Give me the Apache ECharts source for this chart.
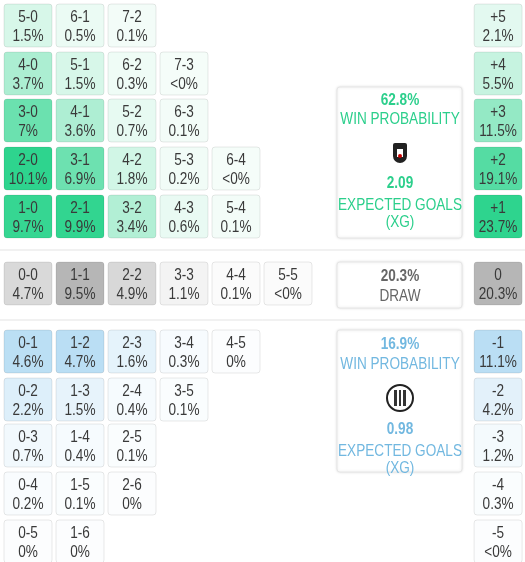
<!DOCTYPE html>
<html><head><meta charset="utf-8">
<script src="https://cdn.jsdelivr.net/npm/echarts@6/dist/echarts.min.js"></script>
<style>html,body{margin:0;padding:0;background:#fff}#frame{width:525px;height:562px}</style>
</head><body><div id="frame"></div>
<script>
// scorelines: [column, row, score, pct]
var homeScores = [
  [0,0,'5-0','1.5%'],[1,0,'6-1','0.5%'],[2,0,'7-2','0.1%'],
  [0,1,'4-0','3.7%'],[1,1,'5-1','1.5%'],[2,1,'6-2','0.3%'],[3,1,'7-3','<0%'],
  [0,2,'3-0','7%'],[1,2,'4-1','3.6%'],[2,2,'5-2','0.7%'],[3,2,'6-3','0.1%'],
  [0,3,'2-0','10.1%'],[1,3,'3-1','6.9%'],[2,3,'4-2','1.8%'],[3,3,'5-3','0.2%'],[4,3,'6-4','<0%'],
  [0,4,'1-0','9.7%'],[1,4,'2-1','9.9%'],[2,4,'3-2','3.4%'],[3,4,'4-3','0.6%'],[4,4,'5-4','0.1%']
];
var drawScores = [
  [0,0,'0-0','4.7%'],[1,0,'1-1','9.5%'],[2,0,'2-2','4.9%'],[3,0,'3-3','1.1%'],[4,0,'4-4','0.1%'],[5,0,'5-5','<0%']
];
var awayScores = [
  [0,0,'0-1','4.6%'],[1,0,'1-2','4.7%'],[2,0,'2-3','1.6%'],[3,0,'3-4','0.3%'],[4,0,'4-5','0%'],
  [0,1,'0-2','2.2%'],[1,1,'1-3','1.5%'],[2,1,'2-4','0.4%'],[3,1,'3-5','0.1%'],
  [0,2,'0-3','0.7%'],[1,2,'1-4','0.4%'],[2,2,'2-5','0.1%'],
  [0,3,'0-4','0.2%'],[1,3,'1-5','0.1%'],[2,3,'2-6','0%'],
  [0,4,'0-5','0%'],[1,4,'1-6','0%']
];
var homeMargins = [['+5','2.1%'],['+4','5.5%'],['+3','11.5%'],['+2','19.1%'],['+1','23.7%']];
var drawMargins = [['0','20.3%']];
var awayMargins = [['-1','11.1%'],['-2','4.2%'],['-3','1.2%'],['-4','0.3%'],['-5','<0%']];
var homeSummary = {win:'62.8%', xg:'2.09'};
var drawSummary = {p:'20.3%'};
var awaySummary = {win:'16.9%', xg:'0.98'};

// layout
var rowTops = {home:[4,52,99,147,195], draw:[262], away:[330,378,424,472,520]};
var cellW = 48, cellH = 43, marginCol = 9.04;
var bases = {home:[46,212,142], draw:[182,182,182], away:[186,222,244]};
var FONT = '"Liberation Sans","DejaVu Sans",sans-serif';
var SX = 0.8;

function pctVal(s){ return s.indexOf('<')===0 ? 0 : parseFloat(s); }
function mix(base, t){
  t = Math.max(0, Math.min(1, t));
  var c = base.map(function(b){ return Math.round(255 + (b-255)*t); });
  return 'rgb('+c.join(',')+')';
}
function cellSeries(group, items){
  var max = Math.max.apply(null, items.map(function(d){ return pctVal(d[3]); }));
  return {
    type:'custom', coordinateSystem:'cartesian2d', data: items, silent:true,
    renderItem: function(params, api){
      var d = items[params.dataIndex];
      var p = api.coord([d[0], rowTops[group][d[1]]]);
      var v = pctVal(d[3]);
      var cx = p[0]+cellW/2, cy = p[1]+cellH/2+1;
      return {
        type:'group', children:[
          {type:'rect', shape:{x:p[0], y:p[1], width:cellW, height:cellH, r:3},
           style:{fill: mix(bases[group], 0.05 + 0.95*v/max), stroke:'rgba(0,0,0,0.09)', lineWidth:1}},
          {type:'text', x:cx, y:cy, scaleX:SX,
           style:{text:d[2]+'\n'+d[3], x:0, y:0, align:'center', verticalAlign:'middle',
            font:'17px '+FONT, lineHeight:19, fill:'#3a3a3a'}}
        ]
      };
    }
  };
}
function marginItems(list){ return list.map(function(m,i){ return [marginCol, i, m[0], m[1]]; }); }

var chart = echarts.init(document.getElementById('frame'));
var W = 525;
function box(x,y,w,h){ return {type:'rect', shape:{x:x,y:y,width:w,height:h,r:3}, style:{fill:'#fff', stroke:'#e6e6e6', shadowBlur:3, shadowColor:'rgba(0,0,0,0.12)'}}; }
function txt(s,x,y,color,bold){ return {type:'text', x:x, y:y, scaleX:SX, style:{text:s, x:0, y:0, align:'center', verticalAlign:'middle', font:(bold?'bold ':'')+'17px '+FONT, fill:color}}; }
var G = '#2ccf8c', B = '#72b8e0', D = '#666';
chart.setOption({
  animation:false,
  grid:{left:4, right:0, top:0, bottom:0},
  xAxis:{type:'value', min:0, max:(W-4)/52, show:false},
  yAxis:{type:'value', min:0, max:562, inverse:true, show:false},
  graphic:[
    {type:'line', shape:{x1:0,y1:250,x2:W,y2:250}, style:{stroke:'#e3e3e3'}},
    {type:'line', shape:{x1:0,y1:320,x2:W,y2:320}, style:{stroke:'#e3e3e3'}},
    box(337,87,125,151), box(337,262,125,46), box(337,330,125,142),
    txt(homeSummary.win,400,100,G,true), txt('WIN PROBABILITY',400,119,G),
    {type:'rect', shape:{x:393,y:143,width:14,height:20,r:[2,2,7,7]}, style:{fill:'#222'}},
    {type:'rect', shape:{x:397,y:149,width:6,height:8}, style:{fill:'#fff'}},
    {type:'circle', shape:{cx:400,cy:156,r:2}, style:{fill:'#c00'}},
    txt(homeSummary.xg,400,183,G,true), txt('EXPECTED GOALS',400,205,G), txt('(XG)',400,222,G),
    txt(drawSummary.p,400,276,D,true), txt('DRAW',400,296,D),
    txt(awaySummary.win,400,344,B,true), txt('WIN PROBABILITY',400,364,B),
    {type:'circle', shape:{cx:400,cy:398,r:13}, style:{fill:'#fff', stroke:'#222', lineWidth:2}},
    {type:'rect', shape:{x:394,y:390,width:12,height:16}, style:{fill:'#333'}},
    {type:'rect', shape:{x:397,y:390,width:2,height:16}, style:{fill:'#fff'}},
    {type:'rect', shape:{x:401,y:390,width:2,height:16}, style:{fill:'#fff'}},
    txt(awaySummary.xg,400,429,B,true), txt('EXPECTED GOALS',400,451,B), txt('(XG)',400,468,B)
  ],
  series:[
    cellSeries('home', homeScores), cellSeries('draw', drawScores), cellSeries('away', awayScores),
    cellSeries('home', marginItems(homeMargins)), cellSeries('draw', marginItems(drawMargins)), cellSeries('away', marginItems(awayMargins))
  ]
});
</script></body></html>
